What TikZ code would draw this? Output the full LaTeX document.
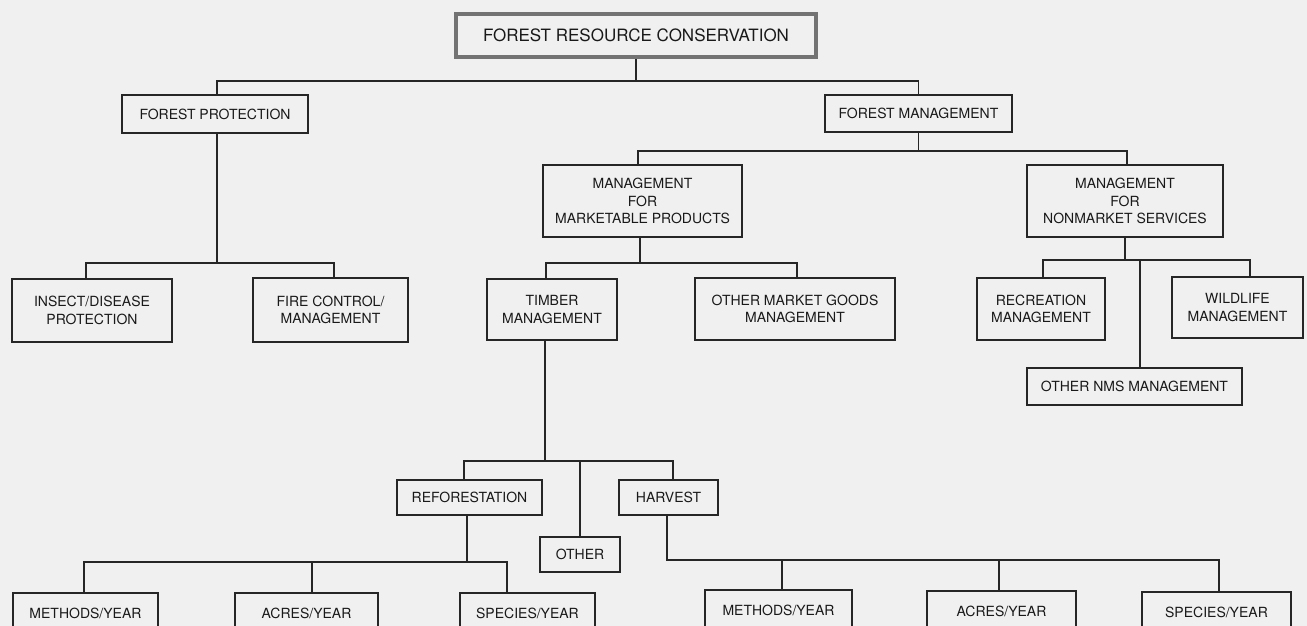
\documentclass[tikz,border=0pt]{standalone}
\usepackage{fontspec}
\setsansfont{TeX Gyre Heros}

\begin{document}
\begin{tikzpicture}[x=1pt, y=-1pt,
	box/.style={draw=black!85, line width=1.3pt, align=center, inner sep=0pt, text=black!90, font=\sffamily\fontsize{14}{17.5}\selectfont},
	wh/.style 2 args={minimum width=#1pt, minimum height=#2pt},
	link/.style={draw=black!85, line width=1.3pt}]
	\useasboundingbox[fill=black!6] (0,0) rectangle (1307,626);

	\node [box, wh={360}{43}, draw=black!55, line width=4pt, font=\sffamily\fontsize{17}{20}\selectfont] (frc) at (636,35.5) {FOREST RESOURCE CONSERVATION};
	\node [box, wh={186}{38}] (fp) at (215,114) {FOREST PROTECTION};
	\node [box, wh={187}{37}] (fm) at (918.5,113.5) {FOREST MANAGEMENT};
	\node [box, wh={199}{72}] (mmp) at (642.5,201) {MANAGEMENT\\FOR\\MARKETABLE PRODUCTS};
	\node [box, wh={196}{72}] (mns) at (1125,201) {MANAGEMENT\\FOR\\NONMARKET SERVICES};
	\node [box, wh={160}{63}] (ins) at (92,310.5) {INSECT/DISEASE\\PROTECTION};
	\node [box, wh={155}{64}] (fire) at (330.5,310) {FIRE CONTROL/\\MANAGEMENT};
	\node [box, wh={130}{61}] (tim) at (552,309.5) {TIMBER\\MANAGEMENT};
	\node [box, wh={200}{62}] (omg) at (795,309) {OTHER MARKET GOODS\\MANAGEMENT};
	\node [box, wh={128}{62}] (rec) at (1041,309) {RECREATION\\MANAGEMENT};
	\node [box, wh={131}{61}] (wild) at (1237.5,307.5) {WILDLIFE\\MANAGEMENT};
	\node [box, wh={215}{37}] (onm) at (1134.5,386.5) {OTHER NMS MANAGEMENT};
	\node [box, wh={145}{35}] (ref) at (469.5,497.5) {REFORESTATION};
	\node [box, wh={99}{35}] (har) at (668.5,497.5) {HARVEST};
	\node [box, wh={80}{35}] (oth) at (580,554.5) {OTHER};
	\node [box, wh={145}{40}] (rm) at (85.5,613) {METHODS/YEAR};
	\node [box, wh={143}{40}] (ra) at (306.5,613) {ACRES/YEAR};
	\node [box, wh={135}{40}] (rs) at (527.5,613) {SPECIES/YEAR};
	\node [box, wh={147}{40}] (hm) at (778.5,610) {METHODS/YEAR};
	\node [box, wh={149}{40}] (ha) at (1001.5,611) {ACRES/YEAR};
	\node [box, wh={149}{40}] (hs) at (1216.5,612) {SPECIES/YEAR};

	\coordinate (j0) at (636,81);
	\coordinate (j1) at (217,263);
	\coordinate (j2) at (918.5,151);
	\coordinate (j3) at (640,263);
	\coordinate (j4) at (1125,260);
	\coordinate (j5) at (545,461);
	\coordinate (j6) at (467,562);
	\coordinate (j7) at (667,560);

	\draw [link] (frc.south) -- (j0);
	\draw [link] ([xshift=2pt]fp.north) |- (j0) -| (fm.north);
	\draw [link] ([xshift=2pt]fp.south) -- (j1);
	\draw [link] ([xshift=-6pt]ins.north) |- (j1) -| ([xshift=3.5pt]fire.north);
	\draw [link] (fm.south) -- (j2);
	\draw [link] ([xshift=-4.5pt]mmp.north) |- (j2) -| ([xshift=2pt]mns.north);
	\draw [link] ([xshift=-2.5pt]mmp.south) -- (j3);
	\draw [link] ([xshift=-6pt]tim.north) |- (j3) -| ([xshift=2pt]omg.north);
	\draw [link] (mns.south) -- (j4);
	\draw [link] ([xshift=2pt]rec.north) |- (j4) -| ([xshift=12.5pt]wild.north);
	\draw [link] ([xshift=5.5pt]onm.north) |- (j4);
	\draw [link] ([xshift=-7pt]tim.south) -- (j5);
	\draw [link] ([xshift=-5.5pt]ref.north) |- (j5) -| ([xshift=4.5pt]har.north);
	\draw [link] (oth.north) |- (j5);
	\draw [link] ([xshift=-2.5pt]ref.south) -- (j6);
	\draw [link] ([xshift=-1.5pt]rm.north) |- (j6) -| ([xshift=-20.5pt]rs.north);
	\draw [link] ([xshift=5.5pt]ra.north) |- (j6);
	\draw [link] ([xshift=-1.5pt]har.south) -- (j7) -| ([xshift=2.5pt]hs.north);
	\draw [link] ([xshift=3.5pt]hm.north) |- (j7);
	\draw [link] ([xshift=-2.5pt]ha.north) |- (j7);
\end{tikzpicture}
\end{document}
